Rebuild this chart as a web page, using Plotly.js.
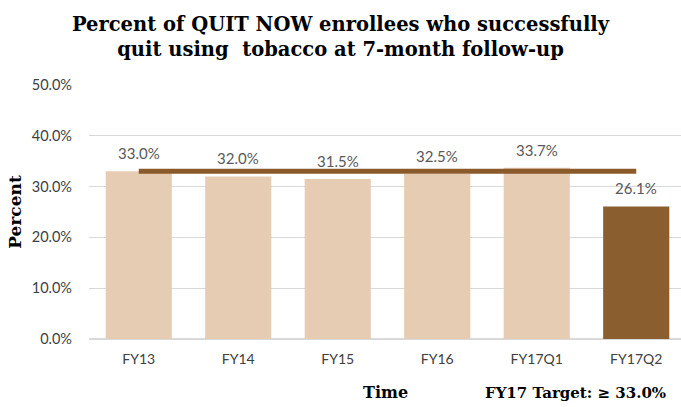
<!DOCTYPE html>
<html>
<head>
<meta charset="utf-8">
<script src="https://cdn.plot.ly/plotly-3.0.1.min.js"></script>
<style>html,body{margin:0;padding:0;background:#fff;}#chart{width:681px;height:407px;}</style>
</head>
<body>
<div id="chart"></div>
<script>
const categories = ["FY13", "FY14", "FY15", "FY16", "FY17Q1", "FY17Q2"];
const quitRates = [33.0, 32.0, 31.5, 32.5, 33.7, 26.1];
const target = 33.0;
const yTicks = [0, 10, 20, 30, 40, 50];
const yTickLabels = ["0.0%", "10.0%", "20.0%", "30.0%", "40.0%", "50.0%"];

const lightBar = "#E6CCB2";
const darkBar = "#8B5E30";
const barColors = categories.map((c, i) => i === categories.length - 1 ? darkBar : lightBar);

const traces = [
  {
    type: "bar",
    x: categories,
    y: quitRates,
    marker: {color: barColors},
    hoverinfo: "skip"
  },
  {
    type: "scatter",
    mode: "lines",
    x: categories,
    y: categories.map(() => target),
    line: {color: "#8B5A2B", width: 5},
    hoverinfo: "skip"
  }
];

const labelAnnotations = categories.map((c, i) => ({
  x: c, y: quitRates[i], xref: "x", yref: "y",
  text: quitRates[i].toFixed(1) + "%",
  showarrow: false, yshift: 18, yanchor: "middle",
  font: {family: "Lato, sans-serif", size: 15, color: "#595959"}
}));

const layout = {
  width: 681,
  height: 407,
  margin: {l: 89, r: 0, t: 85, b: 68},
  paper_bgcolor: "#fff",
  plot_bgcolor: "#fff",
  showlegend: false,
  bargap: 0.335,
  title: {
    text: "Percent of QUIT NOW enrollees who successfully<br>quit using  tobacco at 7-month follow-up",
    font: {family: "DejaVu Serif, serif", size: 19.5, color: "#000", weight: "bold"},
    x: 0.5, xanchor: "center", xref: "container",
    yref: "container", y: 0.924, yanchor: "middle"
  },
  xaxis: {
    type: "category",
    range: [-0.5, 5.45],
    tickfont: {family: "Lato, sans-serif", size: 14, color: "#404040"},
    showgrid: false,
    showline: false,
    zeroline: false,
    ticks: "",
    ticklabelstandoff: 10
  },
  yaxis: {
    range: [0, 50],
    tickvals: yTicks,
    ticktext: yTickLabels,
    tickfont: {family: "Lato, sans-serif", size: 14.5, color: "#404040"},
    showgrid: true,
    gridcolor: "#D9D9D9",
    gridwidth: 1.2,
    zeroline: true,
    zerolinecolor: "#D9D9D9",
    zerolinewidth: 1.5,
    showline: false,
    ticks: "",
    ticklabelstandoff: 16,
    title: {
      text: "Percent",
      font: {family: "DejaVu Serif, serif", size: 17, color: "#000", weight: "bold"},
      standoff: 5
    }
  },
  annotations: labelAnnotations.concat([
    {
      text: "<b>Time</b>",
      xref: "paper", yref: "paper",
      x: 0.50, y: 0, yshift: -53,
      xanchor: "center", yanchor: "middle",
      showarrow: false,
      font: {family: "DejaVu Serif, serif", size: 16, color: "#000"}
    },
    {
      text: "<b>FY17 Target: ≥ 33.0%</b>",
      xref: "paper", yref: "paper",
      x: 0.9775, y: 0, yshift: -54,
      xanchor: "right", yanchor: "middle",
      showarrow: false,
      font: {family: "DejaVu Serif, serif", size: 15, color: "#000"}
    }
  ])
};

Plotly.newPlot("chart", traces, layout, {displayModeBar: false, staticPlot: true});
</script>
</body>
</html>
